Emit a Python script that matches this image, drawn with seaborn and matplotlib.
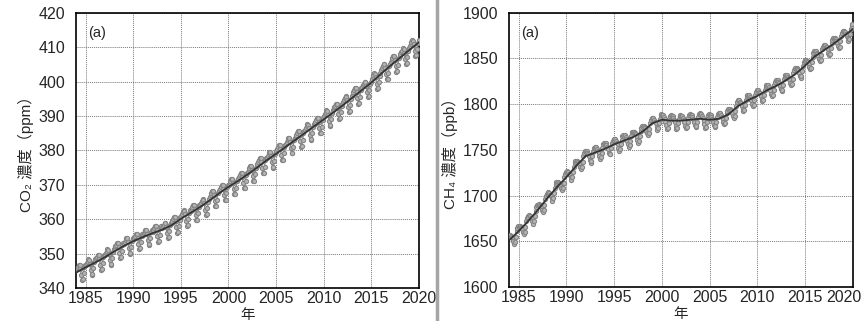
import matplotlib
matplotlib.use("Agg")
import matplotlib.pyplot as plt
import matplotlib.transforms as mtransforms
import numpy as np
import pandas as pd
import seaborn as sns

# years shown (monthly values, Jan..Dec)
years = list(range(1984, 2020))

co2_monthly = [
    [345.1, 345.7, 346.2, 346.8, 346.7, 345.6, 343.8, 342.3, 342.5, 344.3, 346.1, 346.8],
    [346.6, 347.2, 347.7, 348.3, 348.2, 347.1, 345.3, 343.8, 344.0, 345.8, 347.6, 348.3],
    [348.0, 348.6, 349.1, 349.7, 349.6, 348.5, 346.7, 345.2, 345.4, 347.2, 349.0, 349.7],
    [349.5, 350.1, 350.6, 351.2, 351.1, 350.0, 348.2, 346.7, 346.9, 348.7, 350.5, 351.2],
    [351.5, 352.1, 352.6, 353.2, 353.1, 352.0, 350.2, 348.7, 348.9, 350.7, 352.5, 353.2],
    [352.8, 353.4, 353.9, 354.5, 354.4, 353.3, 351.5, 350.0, 350.2, 352.0, 353.8, 354.5],
    [354.1, 354.7, 355.2, 355.8, 355.7, 354.6, 352.8, 351.3, 351.5, 353.3, 355.1, 355.8],
    [355.3, 355.9, 356.4, 357.0, 356.9, 355.8, 354.0, 352.5, 352.7, 354.5, 356.3, 357.0],
    [356.3, 356.9, 357.4, 358.0, 357.9, 356.8, 355.0, 353.5, 353.7, 355.5, 357.3, 358.0],
    [357.3, 357.9, 358.4, 359.0, 358.9, 357.8, 356.0, 354.5, 354.7, 356.5, 358.3, 359.0],
    [358.9, 359.5, 360.0, 360.6, 360.5, 359.4, 357.6, 356.1, 356.3, 358.1, 359.9, 360.6],
    [360.9, 361.5, 362.0, 362.6, 362.5, 361.4, 359.6, 358.1, 358.3, 360.1, 361.9, 362.6],
    [362.5, 363.1, 363.6, 364.2, 364.1, 363.0, 361.2, 359.7, 359.9, 361.7, 363.5, 364.2],
    [364.1, 364.7, 365.2, 365.8, 365.7, 364.6, 362.8, 361.3, 361.5, 363.3, 365.1, 365.8],
    [366.5, 367.1, 367.6, 368.2, 368.1, 367.0, 365.2, 363.7, 363.9, 365.7, 367.5, 368.2],
    [368.3, 368.9, 369.4, 370.0, 369.9, 368.8, 367.0, 365.5, 365.7, 367.5, 369.3, 370.0],
    [370.0, 370.6, 371.1, 371.7, 371.6, 370.5, 368.7, 367.2, 367.4, 369.2, 371.0, 371.7],
    [371.8, 372.4, 372.9, 373.5, 373.4, 372.3, 370.5, 369.0, 369.2, 371.0, 372.8, 373.5],
    [373.8, 374.4, 374.9, 375.5, 375.4, 374.3, 372.5, 371.0, 371.2, 373.0, 374.8, 375.5],
    [376.1, 376.7, 377.2, 377.8, 377.7, 376.6, 374.8, 373.3, 373.5, 375.3, 377.1, 377.8],
    [377.8, 378.4, 378.9, 379.5, 379.4, 378.3, 376.5, 375.0, 375.2, 377.0, 378.8, 379.5],
    [379.9, 380.5, 381.0, 381.6, 381.5, 380.4, 378.6, 377.1, 377.3, 379.1, 380.9, 381.6],
    [381.9, 382.5, 383.0, 383.6, 383.5, 382.4, 380.6, 379.1, 379.3, 381.1, 382.9, 383.6],
    [383.9, 384.5, 385.0, 385.6, 385.5, 384.4, 382.6, 381.1, 381.3, 383.1, 384.9, 385.6],
    [385.9, 386.5, 387.0, 387.6, 387.5, 386.4, 384.6, 383.1, 383.3, 385.1, 386.9, 387.6],
    [387.7, 388.3, 388.8, 389.4, 389.3, 388.2, 386.4, 384.9, 385.1, 386.9, 388.7, 389.4],
    [389.9, 390.5, 391.0, 391.6, 391.5, 390.4, 388.6, 387.1, 387.3, 389.1, 390.9, 391.6],
    [391.9, 392.5, 393.0, 393.6, 393.5, 392.4, 390.6, 389.1, 389.3, 391.1, 392.9, 393.6],
    [394.0, 394.6, 395.1, 395.7, 395.6, 394.5, 392.7, 391.2, 391.4, 393.2, 395.0, 395.7],
    [396.4, 397.0, 397.5, 398.1, 398.0, 396.9, 395.1, 393.6, 393.8, 395.6, 397.4, 398.1],
    [398.3, 398.9, 399.4, 400.0, 399.9, 398.8, 397.0, 395.5, 395.7, 397.5, 399.3, 400.0],
    [400.7, 401.3, 401.8, 402.4, 402.3, 401.2, 399.4, 397.9, 398.1, 399.9, 401.7, 402.4],
    [403.4, 404.0, 404.5, 405.1, 405.0, 403.9, 402.1, 400.6, 400.8, 402.6, 404.4, 405.1],
    [405.7, 406.3, 406.8, 407.4, 407.3, 406.2, 404.4, 402.9, 403.1, 404.9, 406.7, 407.4],
    [407.9, 408.5, 409.0, 409.6, 409.5, 408.4, 406.6, 405.1, 405.3, 407.1, 408.9, 409.6],
    [410.3, 410.9, 411.4, 412.0, 411.9, 410.8, 409.0, 407.5, 407.7, 409.5, 411.3, 412.0],
]

ch4_monthly = [
    [1656, 1657, 1656, 1655, 1653, 1650, 1647, 1649, 1655, 1661, 1665, 1667],
    [1666, 1667, 1666, 1665, 1663, 1660, 1658, 1660, 1666, 1672, 1676, 1678],
    [1677, 1679, 1678, 1676, 1675, 1672, 1669, 1672, 1678, 1683, 1688, 1690],
    [1690, 1691, 1690, 1689, 1687, 1684, 1682, 1684, 1690, 1696, 1700, 1702],
    [1702, 1704, 1703, 1701, 1700, 1697, 1694, 1697, 1703, 1708, 1713, 1715],
    [1714, 1715, 1714, 1713, 1711, 1708, 1706, 1708, 1714, 1720, 1724, 1726],
    [1725, 1727, 1726, 1724, 1723, 1720, 1717, 1720, 1726, 1731, 1736, 1738],
    [1737, 1738, 1737, 1736, 1734, 1731, 1729, 1731, 1737, 1743, 1747, 1749],
    [1748, 1749, 1747, 1745, 1743, 1739, 1736, 1738, 1743, 1748, 1752, 1753],
    [1752, 1753, 1751, 1749, 1747, 1743, 1740, 1742, 1747, 1752, 1756, 1757],
    [1756, 1757, 1755, 1753, 1751, 1747, 1745, 1746, 1752, 1757, 1760, 1762],
    [1761, 1762, 1760, 1758, 1756, 1752, 1749, 1751, 1756, 1761, 1765, 1766],
    [1765, 1766, 1764, 1762, 1760, 1756, 1753, 1755, 1760, 1765, 1769, 1770],
    [1769, 1770, 1768, 1767, 1764, 1761, 1758, 1760, 1765, 1771, 1774, 1776],
    [1775, 1776, 1775, 1774, 1771, 1768, 1766, 1768, 1773, 1779, 1783, 1785],
    [1784, 1785, 1783, 1781, 1779, 1775, 1772, 1774, 1779, 1784, 1788, 1789],
    [1788, 1788, 1786, 1784, 1781, 1777, 1773, 1774, 1779, 1784, 1787, 1788],
    [1787, 1787, 1785, 1783, 1780, 1776, 1773, 1774, 1779, 1784, 1787, 1788],
    [1787, 1787, 1785, 1783, 1780, 1776, 1774, 1775, 1780, 1785, 1788, 1789],
    [1788, 1788, 1786, 1784, 1781, 1777, 1775, 1776, 1781, 1786, 1789, 1790],
    [1789, 1789, 1787, 1785, 1782, 1778, 1774, 1775, 1780, 1785, 1788, 1789],
    [1788, 1788, 1786, 1784, 1781, 1777, 1775, 1776, 1781, 1786, 1789, 1790],
    [1789, 1790, 1788, 1786, 1784, 1780, 1778, 1779, 1785, 1790, 1793, 1795],
    [1794, 1795, 1794, 1793, 1790, 1787, 1785, 1787, 1792, 1798, 1802, 1804],
    [1803, 1804, 1802, 1801, 1798, 1795, 1792, 1794, 1799, 1805, 1808, 1810],
    [1809, 1810, 1808, 1806, 1804, 1800, 1798, 1799, 1805, 1810, 1813, 1815],
    [1814, 1815, 1813, 1812, 1809, 1806, 1803, 1805, 1810, 1816, 1819, 1821],
    [1820, 1821, 1819, 1817, 1815, 1811, 1809, 1810, 1816, 1821, 1824, 1826],
    [1825, 1826, 1824, 1823, 1820, 1817, 1814, 1816, 1821, 1827, 1830, 1832],
    [1831, 1832, 1830, 1829, 1827, 1823, 1821, 1822, 1828, 1834, 1837, 1839],
    [1838, 1839, 1838, 1837, 1834, 1831, 1829, 1831, 1836, 1842, 1846, 1848],
    [1847, 1848, 1847, 1846, 1844, 1841, 1838, 1840, 1846, 1852, 1856, 1858],
    [1857, 1858, 1856, 1855, 1853, 1849, 1847, 1848, 1854, 1860, 1863, 1865],
    [1864, 1865, 1863, 1862, 1860, 1856, 1854, 1855, 1861, 1867, 1870, 1872],
    [1871, 1872, 1871, 1869, 1867, 1864, 1861, 1863, 1869, 1874, 1878, 1880],
    [1879, 1880, 1879, 1877, 1875, 1872, 1869, 1871, 1877, 1882, 1886, 1888],
]

# deseasonalised trend, value at 1 January of each year
trend_years = list(range(1984, 2021))
co2_trend = [344.5, 346.0, 347.4, 348.9, 350.6, 352.2, 353.6, 354.8, 355.9, 356.9,
             358.2, 360.1, 361.8, 363.5, 365.4, 367.5, 369.4, 371.1, 373.0, 375.0,
             377.1, 379.0, 381.0, 383.0, 385.0, 387.0, 389.0, 391.0, 393.1, 395.3,
             397.5, 399.7, 402.2, 404.6, 406.9, 409.2, 411.4]
ch4_trend = [1651, 1661, 1672, 1684, 1697, 1709, 1720, 1732, 1743, 1747,
             1751, 1756, 1760, 1764, 1770, 1779, 1783, 1782, 1782, 1783,
             1784, 1783, 1784, 1789, 1798, 1804, 1809, 1815, 1820, 1826,
             1833, 1842, 1852, 1859, 1866, 1874, 1882]

xticks = [1985, 1990, 1995, 2000, 2005, 2010, 2015, 2020]

sns.set_style("white")
plt.rcParams['font.family'] = ['Liberation Sans', 'Noto Sans CJK JP', 'DejaVu Sans']

t = [y + (m + 0.5) / 12 for y in years for m in range(12)]
monthly = pd.DataFrame({
    't': t,
    'co2': [v for row in co2_monthly for v in row],
    'ch4': [v for row in ch4_monthly for v in row],
})
trend = pd.DataFrame({'t': trend_years, 'co2': co2_trend, 'ch4': ch4_trend})

fig = plt.figure(figsize=(8.63, 3.21), dpi=100)
ax1 = fig.add_axes([0.0881, 0.1028, 0.3974, 0.8576])
ax2 = fig.add_axes([0.5898, 0.1059, 0.3983, 0.8545])

panels = [
    (ax1, 'co2', (340, 420), range(340, 421, 10), 'CO₂ 濃度（ppm）'),
    (ax2, 'ch4', (1600, 1900), range(1600, 1901, 50), 'CH₄ 濃度（ppb）'),
]

for ax, col, ylim, yt, ylab in panels:
    sns.lineplot(data=monthly, x='t', y=col, ax=ax, color='#8c8c8c', lw=1.0,
                 marker='o', markersize=3.0, markerfacecolor='#b5b5b5',
                 markeredgecolor='#858585', markeredgewidth=0.8, zorder=3)
    sns.lineplot(data=trend, x='t', y=col, ax=ax, color='#333333', lw=1.3, zorder=4)
    ax.set_xlim(1984, 2020)
    ax.set_ylim(*ylim)
    ax.set_xticks(xticks)
    ax.set_yticks(list(yt))
    ax.grid(True, ls=(0, (1, 1)), color='#7a7a7a', lw=0.7)
    for s in ax.spines.values():
        s.set_color('black')
        s.set_linewidth(1.2)
    ax.tick_params(direction='in', length=3, labelsize=11.5, pad=2)
    ax.tick_params(axis='y', pad=8)
    ax.set_xlabel('年', fontsize=10.5, labelpad=1.5)
    ax.set_ylabel(ylab, fontsize=11, labelpad=3)
    ax.text(0.035, 0.925, '(a)', transform=ax.transAxes, fontsize=10.5,
            va='center', ha='left')

# keep the last year label of the right panel inside the figure
last = ax2.get_xticklabels()[-1]
last.set_transform(last.get_transform() +
                   mtransforms.ScaledTranslation(-9 / 100, 0, fig.dpi_scale_trans))

# grey divider between the two panels
fig.add_artist(plt.Line2D([0.5064, 0.5064], [0, 1], color='#a5a5a5', lw=2.5))

fig.savefig('out.png', dpi=100)
